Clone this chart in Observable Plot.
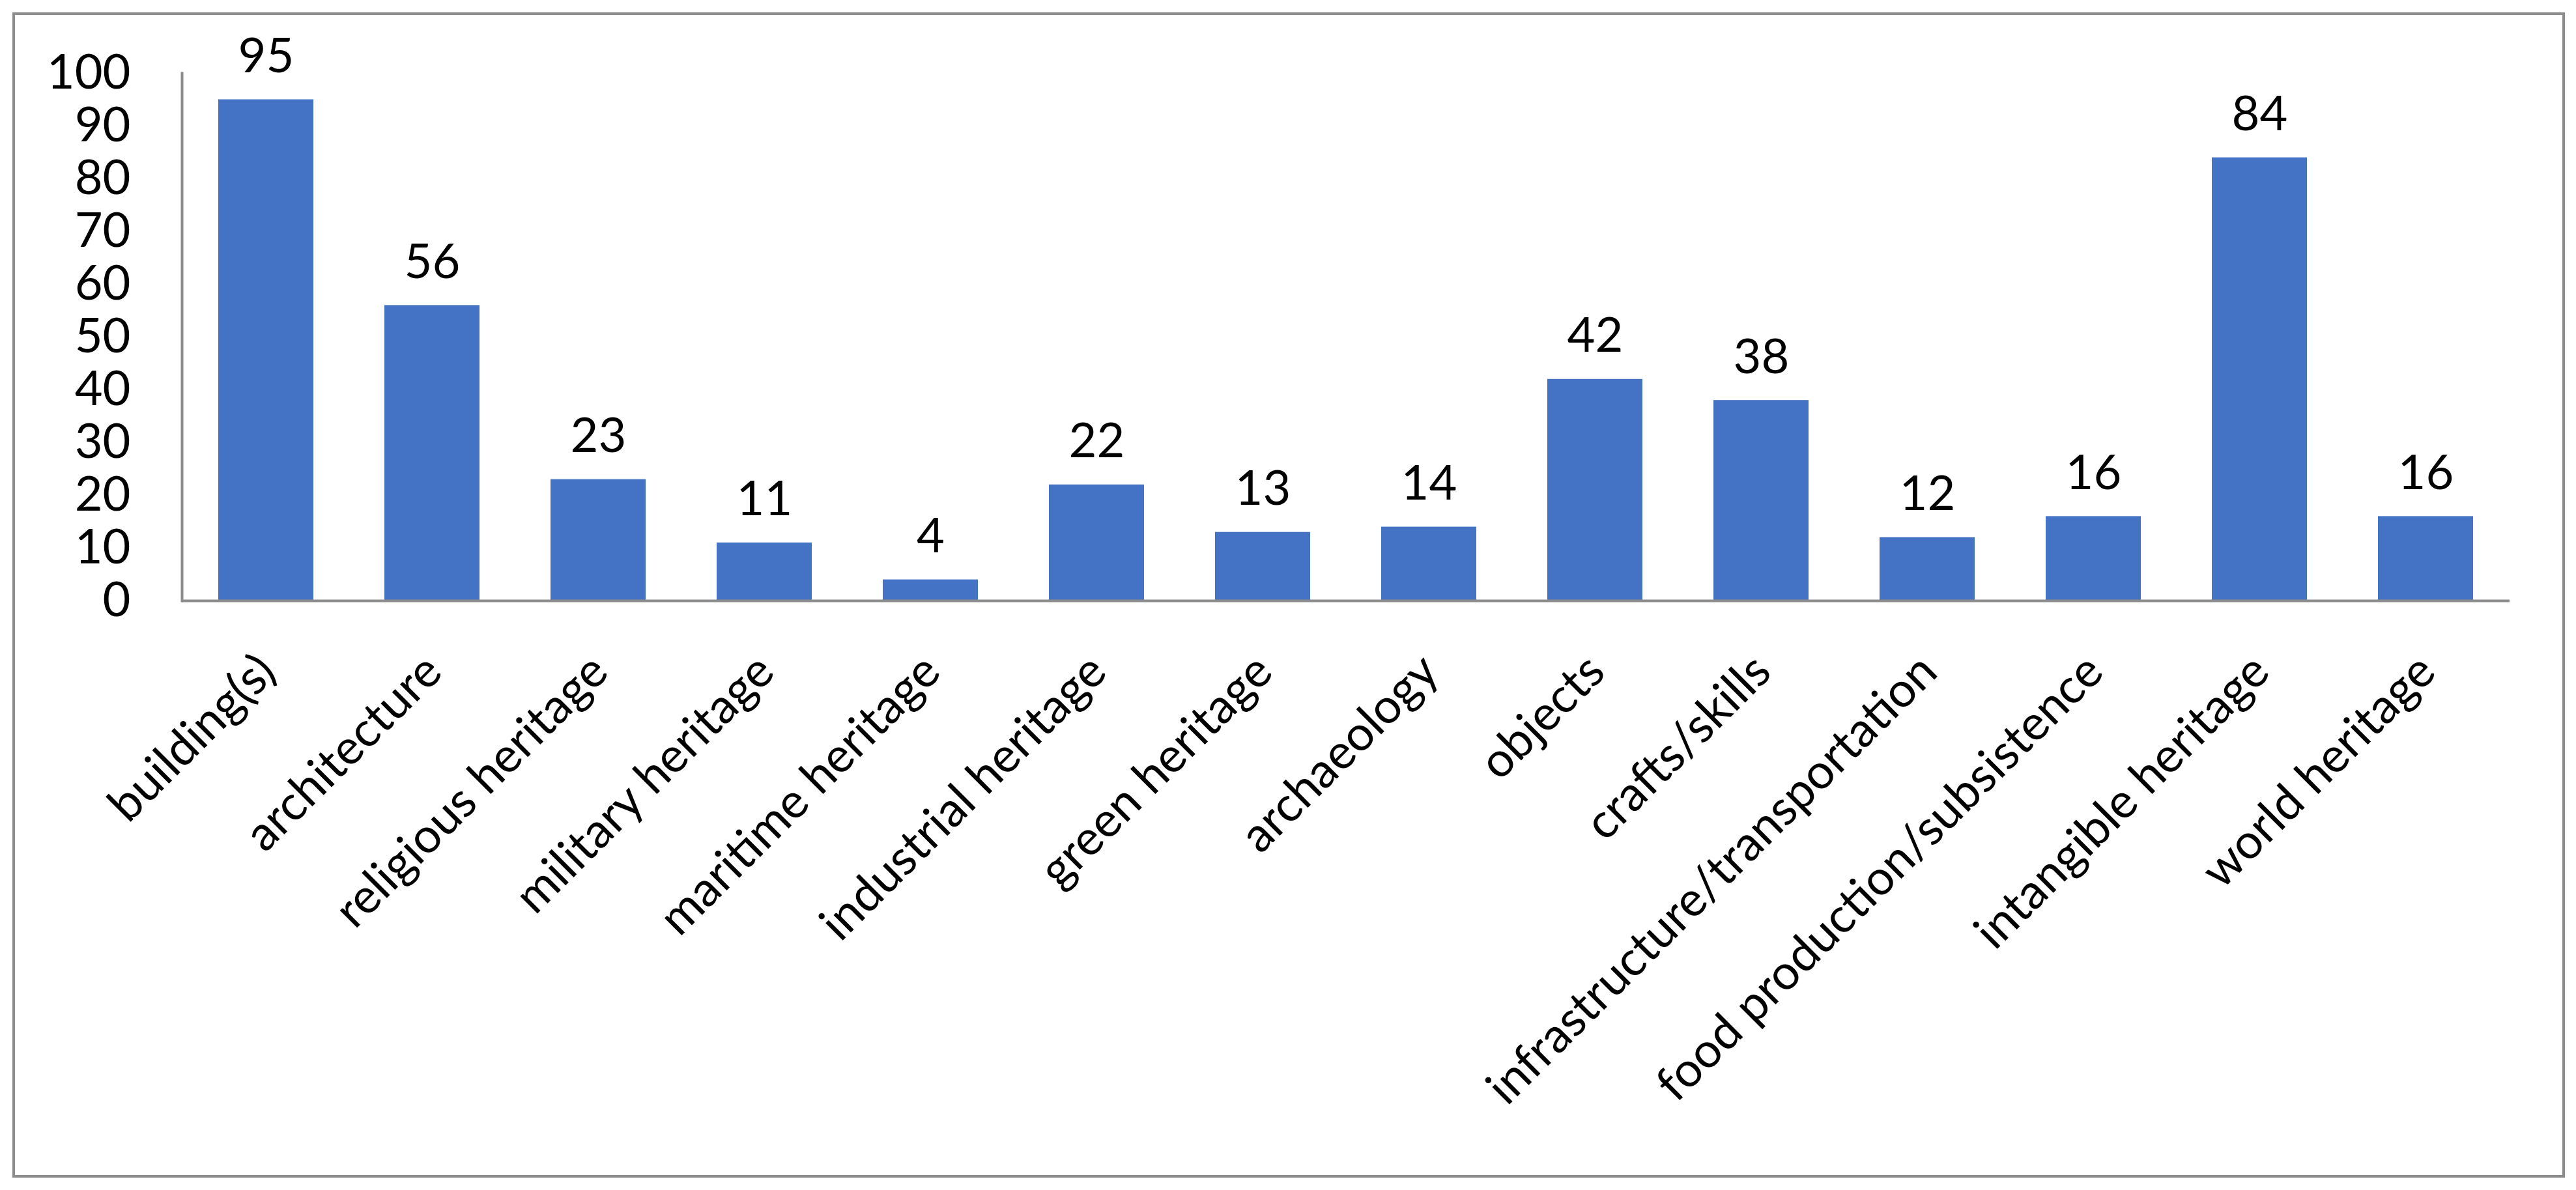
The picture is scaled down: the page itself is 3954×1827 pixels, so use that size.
<!DOCTYPE html>
<html><head><meta charset="utf-8">
<script src="https://cdn.jsdelivr.net/npm/d3@7"></script>
<script src="https://cdn.jsdelivr.net/npm/@observablehq/plot@0.6"></script>
<style>
html,body{margin:0;padding:0;background:#fff;}
#wrap{position:relative;width:3954px;height:1827px;overflow:hidden;background:#fff;}
#border{position:absolute;left:19px;top:19px;width:3918px;height:1789px;border:4px solid #8c8c8c;box-sizing:border-box;}
#chart{position:absolute;left:0;top:0;}
</style></head><body>
<div id="wrap"><div id="border"></div><div id="chart"></div></div>
<script>
const categories = ["building(s)","architecture","religious heritage","military heritage","maritime heritage","industrial heritage","green heritage","archaeology","objects","crafts/skills","infrastructure/transportation","food production/subsistence","intangible heritage","world heritage"];
const values = [95,56,23,11,4,22,13,14,42,38,12,16,84,16];
const yTicks = [0,10,20,30,40,50,60,70,80,90,100];

const data = categories.map((c, i) => ({category: c, value: values[i]}));
const font = "Lato, 'Open Sans', sans-serif";
const axisGray = "#8c8c8c";

const chart = Plot.plot({
  width: 3954,
  height: 1827,
  marginLeft: 279,
  marginRight: 102,
  marginTop: 112,
  marginBottom: 905,
  style: {fontFamily: font, fontSize: "74px", color: "#000", background: "transparent", overflow: "visible"},
  x: {domain: categories, paddingInner: 0.428, paddingOuter: 0.214, label: null},
  y: {domain: [0, 100], label: null},
  marks: [
    Plot.barY(data, {x: "category", y: "value", fill: "#4472C4"}),
    Plot.text(data, {x: "category", y: "value", text: d => String(d.value), dy: -42, lineAnchor: "bottom", fontSize: 74, fill: "#000"}),
    Plot.axisY({ticks: yTicks, tickSize: 0, tickPadding: 79, fontSize: 74, label: null, tickFormat: d => String(d), fill: "#000"}),
    Plot.axisX({tickSize: 0, tickRotate: -45, tickPadding: 0, textAnchor: "end", lineAnchor: "middle", dx: 2, dy: 96, fontSize: 74, label: null, fill: "#000"}),
    Plot.ruleY([0], {stroke: axisGray, strokeWidth: 4}),
    Plot.frame({anchor: "left", stroke: axisGray, strokeWidth: 4})
  ]
});
document.getElementById("chart").appendChild(chart);
</script>
</body></html>
